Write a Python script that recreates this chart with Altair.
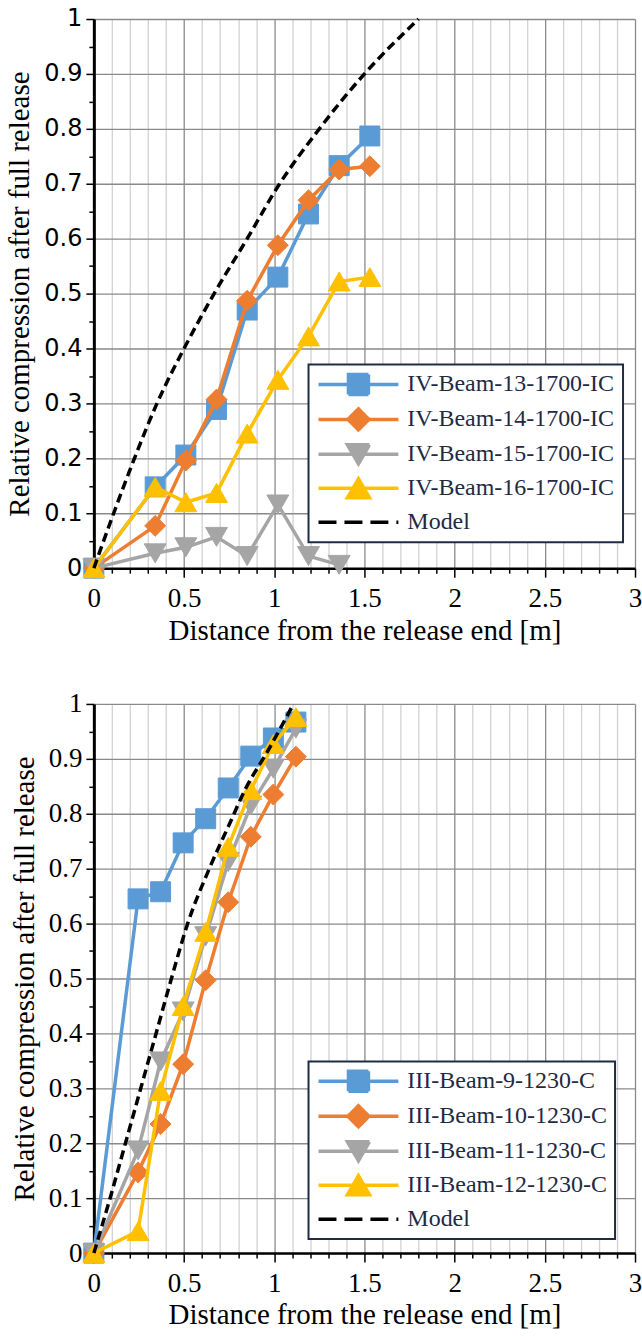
import altair as alt
import pandas as pd

# ---------------- data ----------------
top_names = ["IV-Beam-13-1700-IC", "IV-Beam-14-1700-IC", "IV-Beam-15-1700-IC", "IV-Beam-16-1700-IC"]
top_x = [0, 0.34, 0.51, 0.68, 0.85, 1.02, 1.19, 1.36, 1.53]
top_b13 = [0, 0.148, 0.206, 0.289, 0.47, 0.53, 0.645, 0.733, 0.787]
top_b14 = [0, 0.077, 0.196, 0.307, 0.487, 0.588, 0.67, 0.726, 0.732]
top_b15_x = [0, 0.34, 0.51, 0.68, 0.85, 1.02, 1.19, 1.36]
top_b15 = [0, 0.027, 0.038, 0.057, 0.022, 0.116, 0.022, 0.006]
top_b16 = [0, 0.148, 0.12, 0.137, 0.245, 0.343, 0.422, 0.522, 0.53]
top_model_x = [0, 0.11, 0.225, 0.35, 0.5, 0.667, 0.85, 1.03, 1.25, 1.5, 1.8]
top_model_y = [0, 0.1, 0.2, 0.3, 0.4, 0.5, 0.6, 0.7, 0.8, 0.9, 1.0]

bot_names = ["III-Beam-9-1230-C", "III-Beam-10-1230-C", "III-Beam-11-1230-C", "III-Beam-12-1230-C"]
bot_x = [0, 0.245, 0.37, 0.495, 0.62, 0.745, 0.87, 0.995, 1.12]
bot_b9 = [0, 0.645, 0.658, 0.747, 0.791, 0.847, 0.905, 0.938, 0.967]
bot_b10 = [0, 0.147, 0.235, 0.344, 0.497, 0.639, 0.758, 0.835, 0.904]
bot_b11 = [0, 0.187, 0.349, 0.44, 0.577, 0.712, 0.815, 0.882, 0.955]
bot_b12 = [0, 0.04, 0.295, 0.45, 0.585, 0.74, 0.843, 0.927, 0.976]
bot_model_x = [0, 0.09, 0.175, 0.26, 0.345, 0.43, 0.52, 0.64, 0.75, 0.84, 0.96, 1.107]
bot_model_y = [0, 0.1, 0.2, 0.3, 0.4, 0.5, 0.6, 0.7, 0.78, 0.845, 0.912, 1.0]

model_name = "Model"
x_ticks = [round(i * 0.1, 1) for i in range(31)]
y_ticks = [round(i * 0.05, 2) for i in range(21)]
x_title = "Distance from the release end [m]"
y_title = "Relative compression after full release"

colors = ["#5B9BD5", "#ED7D31", "#A5A5A5", "#FFC000"]
shapes = ["square", "diamond", "triangle-down", "triangle-up"]
sizes = [400, 440, 480, 480]
# legend glyphs: line sample with the marker in the middle (units of sqrt(size)/2)
legend_paths = [
    "M-1,0H7M2,-1H4V1H2Z",
    "M-1,0H7M3,-1.05L4.05,0L3,1.05L1.95,0Z",
    "M-1,0H7M1.9,-0.95H4.1L3,0.95Z",
    "M-1,0H7M3,-0.95L4.1,0.95H1.9Z",
    "M3,-1M-1,0H7",
]
legend_dashes = [[1, 0], [1, 0], [1, 0], [1, 0], [18, 8]]

SERIF = "Liberation Serif"
MAJOR_X = "abs(datum.value*2 - round(datum.value*2)) < 0.0001"
MAJOR_Y = "abs(datum.value*10 - round(datum.value*10)) < 0.0001"


def long_df(names, xs_list, ys_list):
    rows = []
    for n, xs, ys in zip(names, xs_list, ys_list):
        for xv, yv in zip(xs, ys):
            rows.append({"series": n, "x": xv, "y": yv})
    return pd.DataFrame(rows)


def make_panel(names, xs_list, ys_list, mx, my, y_label_font, y_label_size, leg_x, leg_y):
    df = long_df(names, xs_list, ys_list)
    mdf = pd.DataFrame({"x": mx, "y": my})

    x_axis = alt.Axis(
        values=x_ticks, format="~g", title=x_title,
        labelExpr=f"{MAJOR_X} ? datum.label : ''",
        grid=True,
        gridColor={"condition": {"test": MAJOR_X, "value": "#8a8a8a"}, "value": "#d2d2d2"},
        gridWidth=1.3,
        tickSize={"condition": {"test": MAJOR_X, "value": 9}, "value": 5},
        tickColor="black", tickWidth=1.5,
        domainColor="black", domainWidth=2.5,
        labelFont=SERIF, labelFontSize=27, labelColor="black", labelPadding=8,
        labelFlush=False, labelOverlap=False,
        titleFont=SERIF, titleFontSize=29, titleFontWeight="normal", titleColor="black",
        titlePadding=5,
    )
    y_axis = alt.Axis(
        values=y_ticks, format="~g", title=y_title,
        labelExpr=f"{MAJOR_Y} ? datum.label : ''",
        grid=True,
        gridColor="#8a8a8a",
        gridOpacity={"condition": {"test": MAJOR_Y, "value": 1}, "value": 0},
        gridWidth=1.3,
        tickSize={"condition": {"test": MAJOR_Y, "value": 8}, "value": 5},
        tickColor="black", tickWidth=1.5,
        domainColor="black", domainWidth=3,
        labelFont=y_label_font, labelFontSize=y_label_size, labelColor="black", labelPadding=4,
        labelFlush=False, labelOverlap=False,
        titleFont=SERIF, titleFontSize=29, titleFontWeight="normal", titleColor="black",
        titlePadding=9,
    )
    X = alt.X("x:Q", scale=alt.Scale(domain=[0, 3], nice=False), axis=x_axis)
    Y = alt.Y("y:Q", scale=alt.Scale(domain=[0, 1], nice=False), axis=y_axis)

    layers = []
    for n, c, s, sz in zip(names, colors, shapes, sizes):
        base = alt.Chart(df).transform_filter(alt.datum.series == n)
        layers.append(base.mark_line(color=c, strokeWidth=3.5).encode(x=X, y=Y))
        layers.append(
            base.mark_point(shape=s, filled=True, size=sz, color=c, opacity=1,
                            stroke=c, strokeWidth=1).encode(x=X, y=Y)
        )
    layers.append(
        alt.Chart(mdf).mark_line(color="black", strokeWidth=3.5, strokeDash=[9, 5],
                                 interpolate="monotone").encode(x=X, y=Y)
    )

    dom = names + [model_name]
    rng_col = colors + ["black"]
    leg = alt.Legend(
        title=None, orient="none", legendX=leg_x, legendY=leg_y,
        fillColor="white", strokeColor="#1f2d44", padding=8, rowPadding=0,
        labelFont=SERIF, labelFontSize=24, labelColor="#1f2a44", labelOffset=67,
        symbolSize=400, symbolStrokeWidth=3.5, labelLimit=500,
    )
    legend_layer = (
        alt.Chart(df).transform_filter("false")
        .mark_point(filled=True, opacity=1, size=400)
        .encode(
            x=X, y=Y,
            fill=alt.Fill("series:N", scale=alt.Scale(domain=dom, range=rng_col), legend=leg),
            stroke=alt.Stroke("series:N", scale=alt.Scale(domain=dom, range=rng_col), legend=leg),
            shape=alt.Shape("series:N", scale=alt.Scale(domain=dom, range=legend_paths), legend=leg),
            strokeDash=alt.StrokeDash("series:N", scale=alt.Scale(domain=dom, range=legend_dashes), legend=leg),
        )
    )
    layers.append(legend_layer)
    return alt.layer(*layers).properties(width=542, height=550)


top = make_panel(top_names, [top_x, top_x, top_b15_x, top_x], [top_b13, top_b14, top_b15, top_b16],
                 top_model_x, top_model_y, "DejaVu Sans", 24, 215, 346)
bot = make_panel(bot_names, [bot_x] * 4, [bot_b9, bot_b10, bot_b11, bot_b12],
                 bot_model_x, bot_model_y, SERIF, 27, 215, 358)

chart = (
    alt.vconcat(top, bot, spacing=45)
    .resolve_scale(fill="independent", stroke="independent", shape="independent", strokeDash="independent")
    .resolve_legend(fill="independent", stroke="independent", shape="independent", strokeDash="independent")
    .properties(padding={"left": 5, "top": 6, "right": 0, "bottom": 0}, background="white")
    .configure_view(stroke=None)
    .configure_legend(strokeWidth=2)
)

chart.save("out.html", embed_options={"renderer": "svg", "actions": False})
